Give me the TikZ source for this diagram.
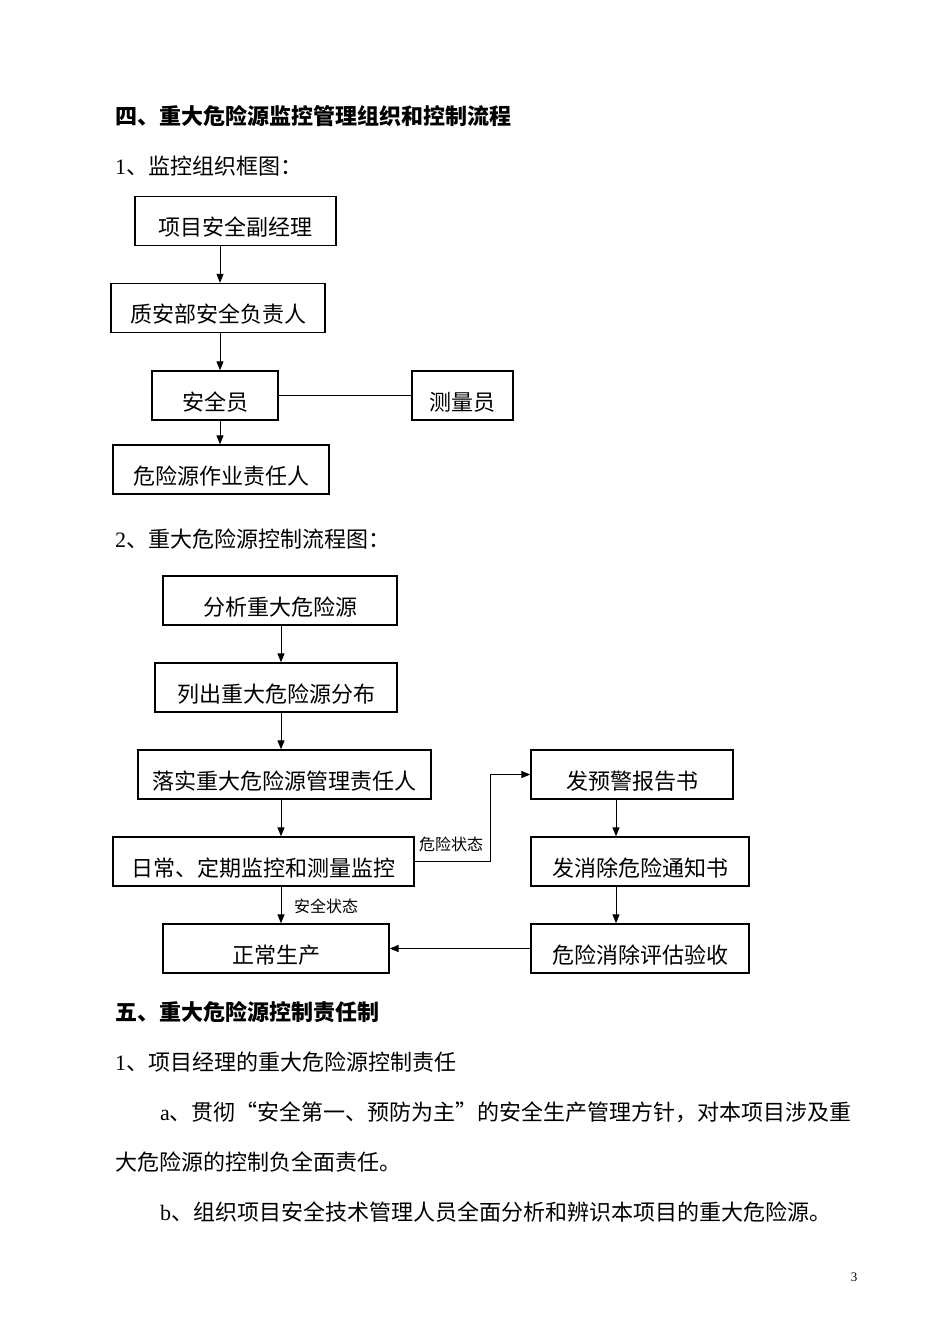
\documentclass[tikz,border=0pt]{standalone}
\usepackage{fontspec}
\setmainfont{Liberation Serif}
\newfontfamily\cjk{Noto Sans CJK SC}
\usetikzlibrary{arrows.meta, positioning}
\newcommand{\lat}[1]{{\rmfamily #1}}

\begin{document}
\begin{tikzpicture}[
  x=1pt, y=-1pt,
  box/.style={
    draw,
    rectangle,
    line width=1.3pt,
    align=center,
    minimum height=49pt,
    inner sep=0pt,
    text height=29pt,
    text depth=0pt,
    font=\cjk\fontsize{22}{26}\selectfont
  },
  arrow/.style={
    -{Triangle[length=9pt,width=7pt]},
    line width=1pt
  },
  line/.style={
    line width=1pt
  },
  title/.style={
    anchor=west,
    inner sep=0pt,
    font=\cjk\bfseries\fontsize{22}{26}\selectfont
  },
  body/.style={
    anchor=west,
    inner sep=0pt,
    font=\cjk\fontsize{22}{26}\selectfont
  },
  state/.style={
    inner sep=0pt,
    font=\cjk\fontsize{16}{19}\selectfont
  }
]
\useasboundingbox (0,0) rectangle (950,1344);

% Headings
\node[title] (h4) at (115,116) {四、重大危险源监控管理组织和控制流程};
\node[body] (s1) at (115,166) {\lat{1}、监控组织框图：};

% Organisation chart
\node[box, minimum width=201pt] (vice) at (235.5,221) {项目安全副经理};
\node[box, minimum width=214pt] (qs) at (218,308) {质安部安全负责人};
\node[box, minimum width=126pt] (safe) at (215,395.5) {安全员};
\node[box, minimum width=101pt] (survey) at (462.5,395.5) {测量员};
\node[box, minimum width=216pt] (worker) at (221,469.5) {危险源作业责任人};
\coordinate (colA) at (220,0);

\draw[arrow] (vice.south -| colA) -- (qs.north -| colA);
\draw[arrow] (qs.south -| colA) -- (safe.north -| colA);
\draw[arrow] (safe.south -| colA) -- (worker.north -| colA);
\draw[line] (safe.east) -- (survey.west);

% Control flow
\node[body] (s2) at (115,539) {\lat{2}、重大危险源控制流程图：};

\node[box, minimum width=234pt] (analyse) at (280,600.5) {分析重大危险源};
\node[box, minimum width=242pt] (list) at (276,687.5) {列出重大危险源分布};
\node[box, minimum width=293pt] (assign) at (284.5,774.5) {落实重大危险源管理责任人};
\node[box, minimum width=301pt] (monitor) at (263.5,861.5) {日常、定期监控和测量监控};
\node[box, minimum width=226pt] (normal) at (276,948.5) {正常生产};
\node[box, minimum width=202pt] (warn) at (632,774.5) {发预警报告书};
\node[box, minimum width=218pt] (notice) at (640,861.5) {发消除危险通知书};
\node[box, minimum width=218pt] (accept) at (640,948.5) {危险消除评估验收};
\coordinate (colB) at (281,0);
\coordinate (colC) at (616,0);

\draw[arrow] (analyse.south -| colB) -- (list.north -| colB);
\draw[arrow] (list.south -| colB) -- (assign.north -| colB);
\draw[arrow] (assign.south -| colB) -- (monitor.north -| colB);
\draw[arrow] (monitor.south -| colB) -- (normal.north -| colB);
\draw[arrow] (monitor.east) -- ++(76,0) |- (warn.west);
\draw[arrow] (warn.south -| colC) -- (notice.north -| colC);
\draw[arrow] (notice.south -| colC) -- (accept.north -| colC);
\draw[arrow] (accept.west) -- (normal.east);

\node[state] (danger) at (451,844) {危险状态};
\node[state] (ok) at (326,906) {安全状态};

% Text below
\node[title] (h5) at (115,1012) {五、重大危险源控制责任制};
\node[body] (s3) at (115,1062) {\lat{1}、项目经理的重大危险源控制责任};
\node[body] (pa) at (160,1112) {\lat{a}、贯彻“安全第一、预防为主”的安全生产管理方针，对本项目涉及重};
\node[body] (pa2) at (115,1162) {大危险源的控制负全面责任。};
\node[body] (pb) at (160,1212) {\lat{b}、组织项目安全技术管理人员全面分析和辨识本项目的重大危险源。};
\node[inner sep=0pt, font=\fontsize{13}{15}\selectfont] (page) at (854,1277) {3};

\end{tikzpicture}
\end{document}
